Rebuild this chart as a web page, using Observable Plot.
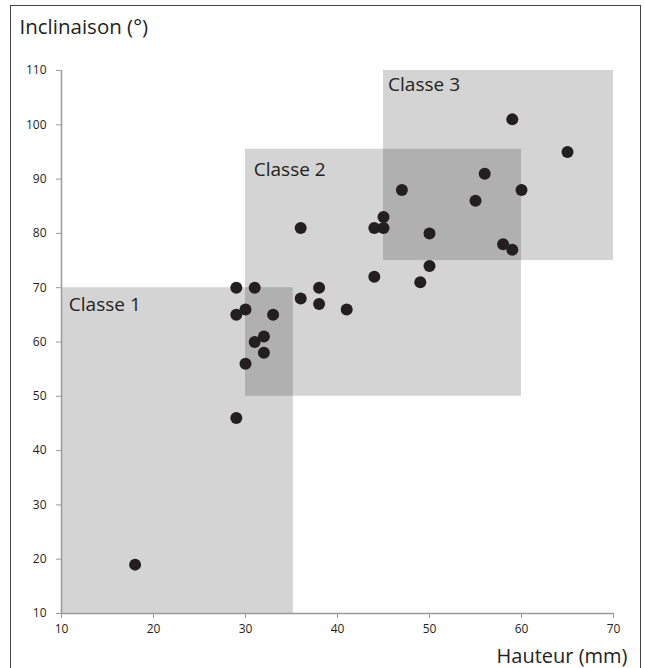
<!DOCTYPE html>
<html><head><meta charset="utf-8">
<script src="https://cdn.jsdelivr.net/npm/d3@7"></script>
<script src="https://cdn.jsdelivr.net/npm/@observablehq/plot@0.6"></script>
<style>
body{margin:0;background:#fff;}
#wrap{position:relative;width:645px;height:668px;overflow:hidden;}
#border{position:absolute;left:10px;top:5px;width:631px;height:700px;border:1.5px solid #444;box-sizing:border-box;pointer-events:none;}
</style></head><body><div id="wrap"></div>
<script>
// Data
const hauteur     = [18,29,29,29,30,30,31,31,32,32,33,36,36,38,38,41,44,44,45,45,47,49,50,50,55,56,58,59,59,60,65];
const inclinaison = [19,46,65,70,66,56,70,60,61,58,65,81,68,70,67,66,81,72,83,81,88,71,80,74,86,91,78,77,101,88,95];

const classes   = ["Classe 1","Classe 2","Classe 3"];
const classX1   = [10, 30, 45];
const classX2   = [35.2, 60, 70];
const classY1   = [10, 50, 75];
const classY2   = [70, 95.5, 110];
const labelX    = [10.8, 30.9, 45.5];
const labelY    = [65.7, 90.6, 106.3];

const xTicks = [10,20,30,40,50,60,70];
const yTicks = [10,20,30,40,50,60,70,80,90,100,110];

const points = hauteur.map((h,i)=>({h, inc: inclinaison[i]}));
const boxes = classes.map((c,i)=>({c, x1:classX1[i], x2:classX2[i], y1:classY1[i], y2:classY2[i], lx:labelX[i], ly:labelY[i]}));

const font = "'Open Sans', 'Noto Sans', sans-serif";

const chart = Plot.plot({
  width: 645, height: 668,
  marginLeft: 61, marginRight: 32, marginTop: 70, marginBottom: 55,
  style: {fontFamily: font, background: "transparent", color: "#231f20"},
  x: {domain: [10,70]},
  y: {domain: [10,110]},
  marks: [
    Plot.rect(boxes, {x1:"x1", x2:"x2", y1:"y1", y2:"y2", fill:"black", fillOpacity:0.17}),
    Plot.ruleX([10], {stroke:"#9a9a9a", strokeWidth:1.5}),
    Plot.ruleY([10], {stroke:"#9a9a9a", strokeWidth:1.5}),
    Plot.axisX({ticks: xTicks, tickSize: 5, tickPadding: 6, stroke:"#9a9a9a", fontSize: 12, label: null, tickFormat: d=>String(d)}),
    Plot.axisY({ticks: yTicks, tickSize: 5, tickPadding: 10, stroke:"#9a9a9a", fontSize: 12, label: null, tickFormat: d=>String(d)}),
    Plot.dot(points, {x:"h", y:"inc", r:6, fill:"#231f20", stroke:"none"}),
    Plot.text(boxes, {x:"lx", y:"ly", text:"c", textAnchor:"start", lineAnchor:"bottom", fontSize: 19, fill:"#231f20"}),
    Plot.text(["Inclinaison (°)"], {frameAnchor:"top-left", text: d=>d, textAnchor:"start", lineAnchor:"bottom", dx:-42, dy:-37, fontSize: 20.5, fill:"#231f20"}),
    Plot.text(["Hauteur (mm)"], {frameAnchor:"bottom-right", text: d=>d, textAnchor:"end", lineAnchor:"bottom", dx:14, dy:49, fontSize: 20, fill:"#231f20"})
  ]
});
const wrap = document.getElementById("wrap");
wrap.appendChild(chart);
const b = document.createElement("div"); b.id = "border"; wrap.appendChild(b);
</script>
</body></html>
